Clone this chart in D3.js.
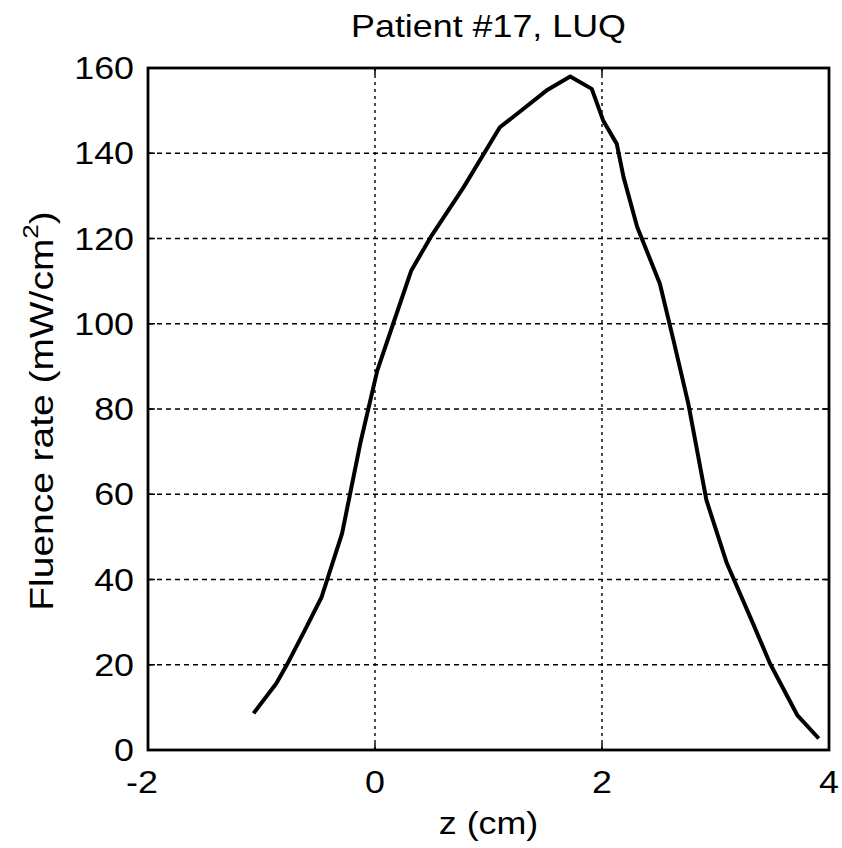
<!DOCTYPE html>
<html>
<head>
<meta charset="utf-8">
<script src="https://cdn.jsdelivr.net/npm/d3@7"></script>
<style>
  body { margin: 0; background: #fff; }
  text { font-family: "Liberation Sans", Arial, sans-serif; fill: #000; }
</style>
</head>
<body>
<div id="root"></div>
<script>
// z position (cm) and fluence rate (mW/cm^2)
const zValues = [-1.07, -0.87, -0.78, -0.62, -0.47, -0.29, -0.13, 0.02, 0.16, 0.32, 0.49,
                 0.78, 1.10, 1.25, 1.51, 1.72, 1.91, 2.01, 2.13, 2.19, 2.31, 2.51, 2.63,
                 2.76, 2.92, 3.10, 3.33, 3.48, 3.72, 3.91];
const fluence = [8.6, 15.6, 19.8, 28.0, 35.9, 50.8, 71.9, 89.0, 100.0, 112.5, 120.3,
                 132.0, 146.1, 149.2, 154.7, 158.0, 155.1, 147.7, 142.2, 134.4, 122.7, 109.4, 96.1,
                 81.3, 58.6, 43.8, 29.7, 20.3, 8.2, 2.7];
const xTicks = [-2, 0, 2, 4];
const yTicks = [0, 20, 40, 60, 80, 100, 120, 140, 160];

const width = 842;
const height = 848;
const margin = { top: 68, right: 13, bottom: 98, left: 148 };
const stretch = 1.12; // the original font is a little wider than Arial

const svg = d3.select("#root")
    .append("svg")
      .attr("width", width)
      .attr("height", height);

const x = d3.scaleLinear()
    .domain([-2, 4])
    .range([margin.left, width - margin.right]);

const y = d3.scaleLinear()
    .domain([0, 160])
    .range([height - margin.bottom, margin.top]);

const x0 = x.range()[0], x1 = x.range()[1];
const y0 = y.range()[0], y1 = y.range()[1];

// grid
svg.append("g")
  .selectAll("line")
    .data(yTicks.slice(1, -1))
    .join("line")
      .attr("x1", x0).attr("x2", x1)
      .attr("y1", d => y(d)).attr("y2", d => y(d))
      .attr("stroke", "#000")
      .attr("stroke-width", 1.4)
      .attr("stroke-dasharray", "5,4");

svg.append("g")
  .selectAll("line")
    .data(xTicks.slice(1, -1))
    .join("line")
      .attr("x1", d => x(d)).attr("x2", d => x(d))
      .attr("y1", y0).attr("y2", y1)
      .attr("stroke", "#000")
      .attr("stroke-width", 1.4)
      .attr("stroke-dasharray", "3,4");

// tick marks on all four sides, pointing inward
const tickLen = 7;
const ticks = svg.append("g").attr("stroke", "#000").attr("stroke-width", 1.5);
ticks.selectAll(".yl").data(yTicks).join("line").attr("class", "yl")
    .attr("x1", x0).attr("x2", x0 + tickLen).attr("y1", d => y(d)).attr("y2", d => y(d));
ticks.selectAll(".yr").data(yTicks).join("line").attr("class", "yr")
    .attr("x1", x1).attr("x2", x1 - tickLen).attr("y1", d => y(d)).attr("y2", d => y(d));
ticks.selectAll(".xb").data(xTicks).join("line").attr("class", "xb")
    .attr("x1", d => x(d)).attr("x2", d => x(d)).attr("y1", y0).attr("y2", y0 - tickLen);
ticks.selectAll(".xt").data(xTicks).join("line").attr("class", "xt")
    .attr("x1", d => x(d)).attr("x2", d => x(d)).attr("y1", y1).attr("y2", y1 + tickLen);

// the curve
const line = d3.line()
    .x((d, i) => x(zValues[i]))
    .y(d => y(d));

svg.append("path")
    .datum(fluence)
    .attr("fill", "none")
    .attr("stroke", "#000")
    .attr("stroke-width", 4)
    .attr("stroke-linejoin", "round")
    .attr("d", line);

// box
svg.append("rect")
    .attr("x", x0).attr("y", y1)
    .attr("width", x1 - x0).attr("height", y0 - y1)
    .attr("fill", "none")
    .attr("stroke", "#000")
    .attr("stroke-width", 2.8);

// tick labels
svg.append("g")
  .selectAll("text")
    .data(yTicks)
    .join("text")
      .attr("transform", d => `translate(${x0 - 14}, ${y(d) + 11}) scale(${stretch},1)`)
      .attr("text-anchor", "end")
      .attr("font-size", 32)
      .text(d => d);

svg.append("g")
  .selectAll("text")
    .data(xTicks)
    .join("text")
      .attr("transform", d => `translate(${x(d) - (d < 0 ? 6 : 0)}, ${y0 + 43}) scale(${stretch},1)`)
      .attr("text-anchor", "middle")
      .attr("font-size", 32)
      .text(d => d);

// title and axis labels
svg.append("text")
    .attr("transform", `translate(${(x0 + x1) / 2}, 37) scale(${stretch},1)`)
    .attr("text-anchor", "middle")
    .attr("font-size", 32)
    .text("Patient #17, LUQ");

svg.append("text")
    .attr("transform", `translate(${(x0 + x1) / 2}, 834) scale(${stretch},1)`)
    .attr("text-anchor", "middle")
    .attr("font-size", 32)
    .text("z (cm)");

const yLabel = svg.append("text")
    .attr("transform", `translate(53, 411) rotate(-90) scale(1.18,1)`)
    .attr("text-anchor", "middle")
    .attr("font-size", 33);
yLabel.append("tspan").text("Fluence rate (mW/cm");
yLabel.append("tspan").attr("font-size", 22).attr("dy", -15).text("2");
yLabel.append("tspan").attr("dy", 15).text(")");
</script>
</body>
</html>
